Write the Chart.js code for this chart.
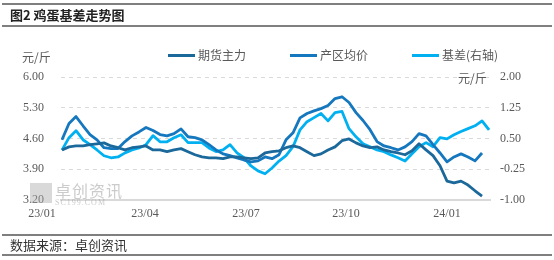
<!DOCTYPE html>
<html>
<head>
<meta charset="utf-8">
<script src="https://cdn.jsdelivr.net/npm/chart.js@4.4.1/dist/chart.umd.min.js"></script>
<style>
  body { margin: 0; background: #fff; }
  #wrap { position: relative; width: 554px; height: 260px; overflow: hidden; font-family: "Noto Sans CJK SC", sans-serif; }
  #wrap canvas { position: absolute; left: 0; top: 0; }
  .rule { position: absolute; left: 2px; width: 550px; height: 2px; background: #7f7f7f; }
  .txt { position: absolute; white-space: nowrap; line-height: 1; }
  .title { left: 10px; top: 8px; font-size: 13px; font-weight: bold; color: #222; }
  .source { left: 10px; top: 238px; font-size: 13px; color: #333; }
  .unit { font-size: 12px; color: #595959; }
  .leg { position: absolute; top: 49px; font-size: 12px; color: #595959; line-height: 1; white-space: nowrap; }
  .leg i { display: inline-block; width: 27px; height: 3px; vertical-align: middle; margin-right: 3px; position: relative; top: -1px; }
  .wm { position: absolute; color: rgba(160,160,160,0.55); white-space: nowrap; line-height: 1; }
</style>
</head>
<body>
<div id="wrap">
  <canvas id="c" width="554" height="260"></canvas>
  <div class="rule" style="top:3px"></div>
  <div class="rule" style="top:25px"></div>
  <div class="txt title">图2 鸡蛋基差走势图</div>
  <div class="rule" style="top:234px"></div>
  <div class="rule" style="top:254px"></div>
  <div class="txt source">数据来源：卓创资讯</div>
  <div class="txt unit" style="left:22px;top:51px">元/斤</div>
  <div class="txt unit" style="left:458px;top:72px">元/斤</div>
  <div id="legend"></div>
  <div class="wm" style="left:30px;top:183px;width:22px;height:20px;background:rgba(170,170,170,0.45)"></div>
  <div class="wm" style="left:55px;top:182px;font-size:16px;letter-spacing:1px">卓创资讯</div>
  <div class="wm" style="left:55px;top:199px;font-size:8px;font-family:'Liberation Serif',serif;letter-spacing:1px">SC199.COM</div>
</div>
<script>
// weekly points, Jan 2023 - Feb 2024
const seriesNames = ["期货主力", "产区均价", "基差(右轴)"];
const seriesColors = ["#1B689B", "#1577BE", "#00B0F0"];

const futures = [4.34, 4.41, 4.43, 4.43, 4.46, 4.48, 4.50, 4.43, 4.39, 4.34,
  4.39, 4.41, 4.43, 4.34, 4.34, 4.30, 4.34, 4.37, 4.30, 4.23,
  4.18, 4.16, 4.16, 4.14, 4.18, 4.18, 4.16, 4.14, 4.16, 4.27,
  4.30, 4.32, 4.39, 4.43, 4.39, 4.30, 4.21, 4.25, 4.34, 4.41,
  4.55, 4.59, 4.50, 4.43, 4.39, 4.41, 4.34, 4.30, 4.27, 4.23,
  4.32, 4.48, 4.34, 4.21, 3.98, 3.63, 3.59, 3.63, 3.54, 3.41, 3.29];

const spot = [4.57, 4.94, 5.10, 4.89, 4.69, 4.57, 4.39, 4.37, 4.37, 4.53,
  4.66, 4.75, 4.85, 4.78, 4.69, 4.66, 4.71, 4.82, 4.64, 4.62,
  4.57, 4.46, 4.34, 4.25, 4.21, 4.16, 4.11, 4.07, 4.09, 4.18,
  4.14, 4.23, 4.57, 4.73, 5.07, 5.17, 5.23, 5.28, 5.35, 5.51,
  5.55, 5.42, 5.19, 5.01, 4.80, 4.53, 4.43, 4.39, 4.34, 4.41,
  4.53, 4.71, 4.66, 4.46, 4.27, 4.07, 4.18, 4.25, 4.18, 4.09, 4.27];

const basis = [0.22, 0.52, 0.69, 0.47, 0.35, 0.22, 0.08, 0.03, 0.05, 0.15,
  0.22, 0.27, 0.35, 0.57, 0.42, 0.42, 0.52, 0.59, 0.40, 0.40,
  0.40, 0.27, 0.18, 0.22, 0.35, 0.15, 0.03, -0.17, -0.29, -0.36,
  -0.22, -0.05, 0.08, 0.30, 0.71, 0.91, 1.01, 1.11, 0.93, 1.13,
  1.16, 0.74, 0.54, 0.37, 0.30, 0.22, 0.18, 0.10, 0.03, -0.05,
  0.13, 0.30, 0.40, 0.30, 0.52, 0.49, 0.59, 0.67, 0.74, 0.81, 0.93, 0.71];

const xTickLabels = ["23/01", "23/04", "23/07", "23/10", "24/01"];
const xTickAt = [0, 14.71, 29.14, 43.43, 57.86];
const leftTicks = [3.2, 3.9, 4.6, 5.3, 6.0];
const rightTicks = [-1.0, -0.25, 0.5, 1.25, 2.0];

const legendPos = [168, 290, 412];
const legend = document.getElementById("legend");
seriesNames.forEach((name, i) => {
  const d = document.createElement("div");
  d.className = "leg";
  d.style.left = legendPos[i] + "px";
  d.innerHTML = `<i style="background:${seriesColors[i]}"></i>${name}`;
  legend.appendChild(d);
});

const toPoints = (arr) => arr.map((v, i) => ({ x: i, y: v }));
const tickFont = { family: "Liberation Serif", size: 12 };

new Chart(document.getElementById("c"), {
  type: "line",
  data: {
    datasets: [
      { label: seriesNames[0], data: toPoints(futures), yAxisID: "y", borderColor: seriesColors[0] },
      { label: seriesNames[1], data: toPoints(spot), yAxisID: "y", borderColor: seriesColors[1] },
      { label: seriesNames[2], data: toPoints(basis), yAxisID: "y2", borderColor: seriesColors[2] },
    ],
  },
  options: {
    responsive: false,
    animation: false,
    layout: { padding: { top: 77, left: 0, right: 0, bottom: 0 } },
    elements: {
      point: { radius: 0 },
      line: { borderWidth: 2.8, tension: 0, borderJoinStyle: "round" },
    },
    plugins: { legend: { display: false }, tooltip: { enabled: false } },
    scales: {
      x: {
        type: "linear",
        min: -0.143,
        max: 61.14,
        grid: { display: false, drawTicks: false },
        border: { color: "#D9D9D9", width: 2 },
        afterBuildTicks: (s) => { s.ticks = xTickAt.map((v) => ({ value: v })); },
        afterFit: (s) => { s.height = 60; },
        ticks: {
          padding: 7,
          labelOffset: -20,
          maxRotation: 0,
          autoSkip: false,
          color: "#595959",
          font: tickFont,
          callback: (v, i) => xTickLabels[i],
        },
      },
      y: {
        position: "left",
        min: 3.2,
        max: 6.0,
        border: { display: false, dash: [4, 4] },
        grid: {
          drawTicks: false,
          color: (ctx) => (ctx.tick && ctx.tick.value <= 3.2 ? "rgba(0,0,0,0)" : "#D9D9D9"),
          lineWidth: 1,
        },
        afterBuildTicks: (s) => { s.ticks = leftTicks.map((v) => ({ value: v })); },
        afterFit: (s) => { s.width = 61; },
        ticks: { padding: 17, color: "#595959", font: tickFont, callback: (v) => v.toFixed(2) },
      },
      y2: {
        position: "right",
        min: -1.0,
        max: 2.0,
        border: { display: false },
        grid: { display: false, drawTicks: false },
        afterBuildTicks: (s) => { s.ticks = rightTicks.map((v) => ({ value: v })); },
        afterFit: (s) => { s.width = 64; },
        ticks: { padding: 10, color: "#595959", font: tickFont, callback: (v) => v.toFixed(2) },
      },
    },
  },
});
</script>
</body>
</html>
